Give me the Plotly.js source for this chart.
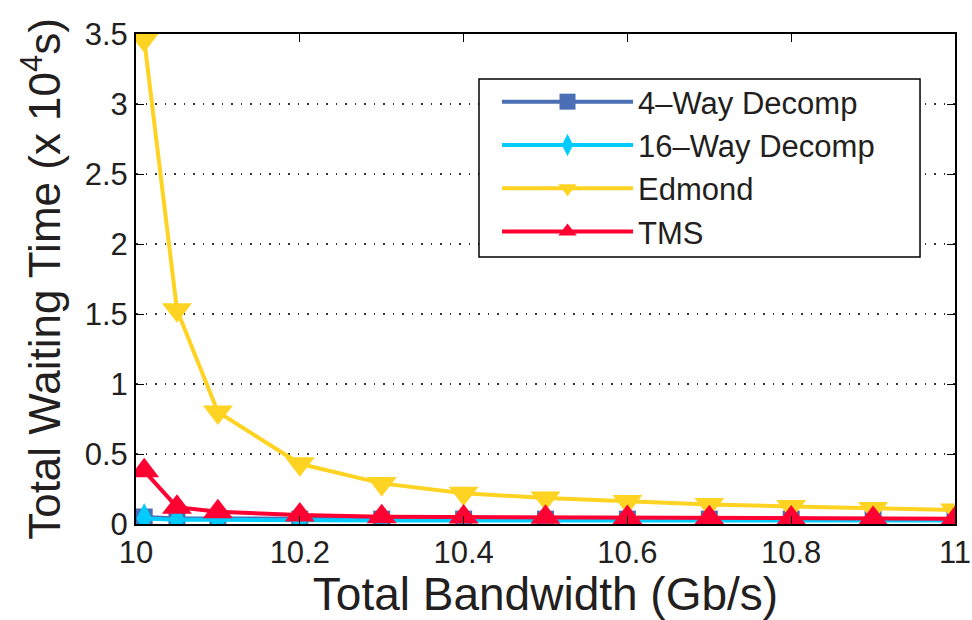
<!DOCTYPE html>
<html>
<head>
<meta charset="utf-8">
<script src="https://cdn.plot.ly/plotly-3.0.1.min.js"></script>
<style>html,body{margin:0;padding:0;background:#fff;}#chart{width:972px;height:620px;}</style>
</head>
<body>
<div id="chart"></div>
<script>
const bandwidth = [10.01, 10.05, 10.1, 10.2, 10.3, 10.4, 10.5, 10.6, 10.7, 10.8, 10.9, 11.0];
const way4 = [0.05, 0.04, 0.04, 0.035, 0.035, 0.035, 0.035, 0.035, 0.035, 0.035, 0.035, 0.035];
const way16 = [0.04, 0.03, 0.03, 0.025, 0.025, 0.025, 0.025, 0.025, 0.025, 0.025, 0.025, 0.025];
const edmond = [3.46, 1.53, 0.80, 0.43, 0.29, 0.22, 0.185, 0.16, 0.14, 0.125, 0.11, 0.10];
const tms = [0.38, 0.12, 0.088, 0.064, 0.052, 0.05, 0.048, 0.046, 0.044, 0.042, 0.04, 0.038];
const seriesNames = ['4\u2013Way Decomp', '16\u2013Way Decomp', 'Edmond', 'TMS'];
const yTickVals = [0, 0.5, 1, 1.5, 2, 2.5, 3, 3.5];
const yTickText = ['0', '0.5', '1', '1.5', '2', '2.5', '3', '3.5'];
const xTickVals = [10, 10.2, 10.4, 10.6, 10.8, 11];
const xTickText = ['10', '10.2', '10.4', '10.6', '10.8', '11'];

const FONT = '"Liberation Sans", Arial, Helvetica, sans-serif';

const traces = [
  {x: bandwidth, y: way4, name: seriesNames[0], mode: 'lines+markers',
   line: {color: '#4a6fb5', width: 4},
   marker: {symbol: 'square', size: 17, color: '#4a6fb5', line: {width: 0}}},
  {x: bandwidth, y: way16, name: seriesNames[1], mode: 'lines+markers',
   line: {color: '#00ccff', width: 4},
   marker: {symbol: 'diamond-tall', size: 22, color: '#00ccff', line: {width: 0}}},
  {x: bandwidth, y: edmond, name: seriesNames[2], mode: 'lines+markers',
   line: {color: '#ffd321', width: 4},
   marker: {symbol: 'triangle-down', size: 26, color: '#ffd321', line: {width: 0}}},
  {x: bandwidth, y: tms, name: seriesNames[3], mode: 'lines+markers',
   line: {color: '#ff0033', width: 4},
   marker: {symbol: 'triangle-up', size: 26, color: '#ff0033', line: {width: 0}}}
];

const layout = {
  width: 972, height: 620,
  margin: {l: 136, r: 17, t: 34, b: 96},
  paper_bgcolor: '#ffffff', plot_bgcolor: '#ffffff',
  font: {family: FONT, color: '#231f20'},
  showlegend: true,
  legend: {
    x: 0.4408, y: 0.9163, xanchor: 'left', yanchor: 'top',
    bgcolor: 'rgba(0,0,0,0)', borderwidth: 0,
    font: {family: FONT, size: 31, color: '#231f20'},
    itemwidth: 131, tracegroupgap: 0
  },
  shapes: [{
    type: 'rect', xref: 'paper', yref: 'paper', layer: 'above',
    x0: 0.4188, x1: 0.9573, y0: 0.5449, y1: 0.9082,
    fillcolor: '#ffffff', line: {color: '#000000', width: 1.5}
  }],
  xaxis: {
    range: [10, 11], tickmode: 'array', tickvals: xTickVals, ticktext: xTickText,
    ticks: 'inside', ticklen: 8, tickcolor: '#000', tickwidth: 1,
    showline: true, linecolor: '#000', linewidth: 2, mirror: 'ticks',
    showgrid: false, zeroline: false, ticklabeloverflow: 'allow',
    tickfont: {family: FONT, size: 31, color: '#231f20'},
    title: {text: 'Total Bandwidth (Gb/s)', font: {family: FONT, size: 46, color: '#231f20'}, standoff: 6}
  },
  yaxis: {
    range: [0, 3.5], tickmode: 'array', tickvals: yTickVals, ticktext: yTickText,
    ticks: 'inside', ticklen: 8, tickcolor: '#000', tickwidth: 1,
    showline: true, linecolor: '#000', linewidth: 2, mirror: 'ticks',
    showgrid: true, gridcolor: '#333', gridwidth: 1.5, griddash: '1.5px,8px',
    zeroline: false,
    tickfont: {family: FONT, size: 31, color: '#231f20'},
    title: {text: 'Total Waiting Time (x 10<sup>4</sup>s)', font: {family: FONT, size: 44, color: '#231f20'}, standoff: 10}
  }
};

Plotly.newPlot('chart', traces, layout, {displayModeBar: false, staticPlot: true});
</script>
</body>
</html>
